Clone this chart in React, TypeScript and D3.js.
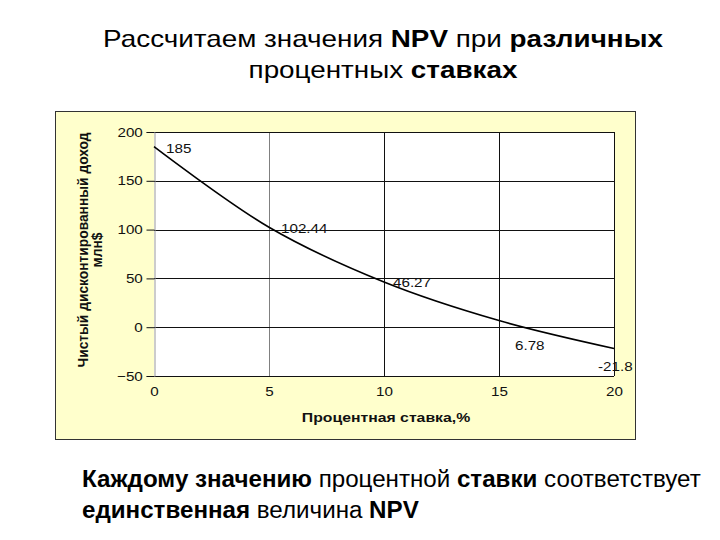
import React, { useEffect, useRef } from 'react';
import * as d3 from 'd3';

const rates = [0, 5, 10, 15, 20];
const npv = [185, 102.44, 46.27, 6.78, -21.8];
const npvLabels = ['185', '102.44', '46.27', '6.78', '-21.8'];
const xTicks = [0, 5, 10, 15, 20];
const yTicks = [-50, 0, 50, 100, 150, 200];

const FONT = '"Liberation Sans", Arial, sans-serif';
// the original slide is stretched a little horizontally
const SX = 1.17;

// label offsets relative to the point (dx, dy)
const labelOffsets: [number, number][] = [
    [12, 6],
    [12, 6],
    [9, 5],
    [16, 29],
    [-16, 23]
];

const App: React.FC = () => {
    const svgRef = useRef<SVGSVGElement>(null);
    const width = 720;
    const height = 540;
    const plot = { left: 154, right: 614, top: 132, bottom: 376 };

    useEffect(() => {
        if (!svgRef.current) return;
        const svg = d3.select(svgRef.current);
        svg.selectAll('*').remove();

        svg.append('rect')
            .attr('width', width)
            .attr('height', height)
            .attr('fill', '#ffffff');

        // Title
        const title = svg.append('g')
            .attr('transform', `translate(383,0) scale(1.16,1)`)
            .append('text')
            .attr('font-family', FONT)
            .attr('font-size', 24)
            .attr('fill', '#000')
            .attr('text-anchor', 'middle');
        const t1 = title.append('tspan').attr('x', 0).attr('y', 47);
        t1.append('tspan').text('Рассчитаем значения ');
        t1.append('tspan').attr('font-weight', 'bold').text('NPV');
        t1.append('tspan').text(' при ');
        t1.append('tspan').attr('font-weight', 'bold').text('различных');
        const t2 = title.append('tspan').attr('x', 0).attr('y', 78);
        t2.append('tspan').text('процентных ');
        t2.append('tspan').attr('font-weight', 'bold').text('ставках');

        // Chart frame
        svg.append('rect')
            .attr('x', 55.5)
            .attr('y', 111.5)
            .attr('width', 580)
            .attr('height', 328)
            .attr('fill', '#ffffcc')
            .attr('stroke', '#333')
            .attr('stroke-width', 1);

        const x = d3.scaleLinear().domain([0, 20]).range([plot.left, plot.right]);
        const y = d3.scaleLinear().domain([-50, 200]).range([plot.bottom, plot.top]);

        svg.append('rect')
            .attr('x', plot.left)
            .attr('y', plot.top)
            .attr('width', plot.right - plot.left)
            .attr('height', plot.bottom - plot.top)
            .attr('fill', '#ffffff');

        // Vertical gridlines
        svg.append('g')
            .selectAll('line')
            .data(xTicks.filter(d => d > 0 && d < 20))
            .enter()
            .append('line')
            .attr('x1', d => x(d) + 0.5)
            .attr('x2', d => x(d) + 0.5)
            .attr('y1', plot.top)
            .attr('y2', plot.bottom)
            .attr('stroke', d => (d === 5 ? '#808080' : '#111'))
            .attr('stroke-width', 1);

        // Horizontal gridlines
        svg.append('g')
            .selectAll('line')
            .data(yTicks)
            .enter()
            .append('line')
            .attr('x1', plot.left)
            .attr('x2', plot.right)
            .attr('y1', d => Math.round(y(d)) + 0.5)
            .attr('y2', d => Math.round(y(d)) + 0.5)
            .attr('stroke', '#111')
            .attr('stroke-width', 1);

        // Right border of plot area
        svg.append('line')
            .attr('x1', plot.right + 0.5)
            .attr('x2', plot.right + 0.5)
            .attr('y1', plot.top)
            .attr('y2', plot.bottom)
            .attr('stroke', '#111');

        // Y axis
        const yAxis = d3.axisLeft(y).tickValues(yTicks).tickSize(8).tickPadding(2);
        const yg = svg.append('g')
            .attr('transform', `translate(${plot.left + 0.5},0)`)
            .call(yAxis);
        yg.select('.domain').attr('stroke', '#999');
        yg.selectAll('.tick line').attr('stroke', '#111');
        yg.selectAll('.tick text')
            .attr('font-family', FONT)
            .attr('font-size', 13)
            .attr('fill', '#111')
            .attr('transform', `scale(${SX},1)`);

        // X axis
        const xAxis = d3.axisBottom(x).tickValues(xTicks).tickSize(0).tickPadding(11);
        const xg = svg.append('g')
            .attr('transform', `translate(0,${plot.bottom})`)
            .call(xAxis);
        xg.select('.domain').remove();
        xg.selectAll('.tick text')
            .attr('font-family', FONT)
            .attr('font-size', 13)
            .attr('fill', '#111')
            .attr('transform', `scale(${SX},1)`);

        // Axis titles
        svg.append('g')
            .attr('transform', `translate(386,422) scale(${SX},1)`)
            .append('text')
            .attr('text-anchor', 'middle')
            .attr('font-family', FONT)
            .attr('font-size', 13.5)
            .attr('font-weight', 'bold')
            .attr('fill', '#111')
            .text('Процентная ставка,%');

        const yTitle = svg.append('text')
            .attr('transform', 'translate(0,250) rotate(-90)')
            .attr('text-anchor', 'middle')
            .attr('font-family', FONT)
            .attr('font-size', 13.8)
            .attr('font-weight', 'bold')
            .attr('fill', '#111');
        yTitle.append('tspan').attr('x', 0).attr('y', 88).text('Чистый дисконтированный доход');
        yTitle.append('tspan').attr('x', 0).attr('y', 102).text('млн$');

        // NPV curve
        const points = rates.map((r, i) => [r, npv[i]] as [number, number]);
        const line = d3.line<[number, number]>()
            .x(d => x(d[0]))
            .y(d => y(d[1]))
            .curve(d3.curveCatmullRom.alpha(0.5));
        svg.append('path')
            .datum(points)
            .attr('d', line)
            .attr('fill', 'none')
            .attr('stroke', '#000')
            .attr('stroke-width', 1.6);

        // Data labels
        svg.append('g')
            .selectAll('g')
            .data(points)
            .enter()
            .append('g')
            .attr('transform', (d, i) =>
                `translate(${x(d[0]) + labelOffsets[i][0]},${y(d[1]) + labelOffsets[i][1]}) scale(${SX},1)`)
            .append('text')
            .attr('font-family', FONT)
            .attr('font-size', 13)
            .attr('fill', '#111')
            .text((d, i) => npvLabels[i]);

        // Bottom caption
        const cap = svg.append('g')
            .attr('transform', 'translate(82,0) scale(1.05,1)')
            .append('text')
            .attr('font-family', FONT)
            .attr('font-size', 23)
            .attr('fill', '#000');
        const c1 = cap.append('tspan').attr('x', 0).attr('y', 487);
        c1.append('tspan').attr('font-weight', 'bold').text('Каждому значению');
        c1.append('tspan').text(' процентной ');
        c1.append('tspan').attr('font-weight', 'bold').text('ставки');
        c1.append('tspan').text(' соответствует');
        const c2 = cap.append('tspan').attr('x', 0).attr('y', 518);
        c2.append('tspan').attr('font-weight', 'bold').text('единственная');
        c2.append('tspan').text(' величина ');
        c2.append('tspan').attr('font-weight', 'bold').text('NPV');
    }, []);

    return (
        <svg
            ref={svgRef}
            width={width}
            height={height}
            style={{ position: 'absolute', left: 0, top: 0, display: 'block' }}
        />
    );
};

export default App;
